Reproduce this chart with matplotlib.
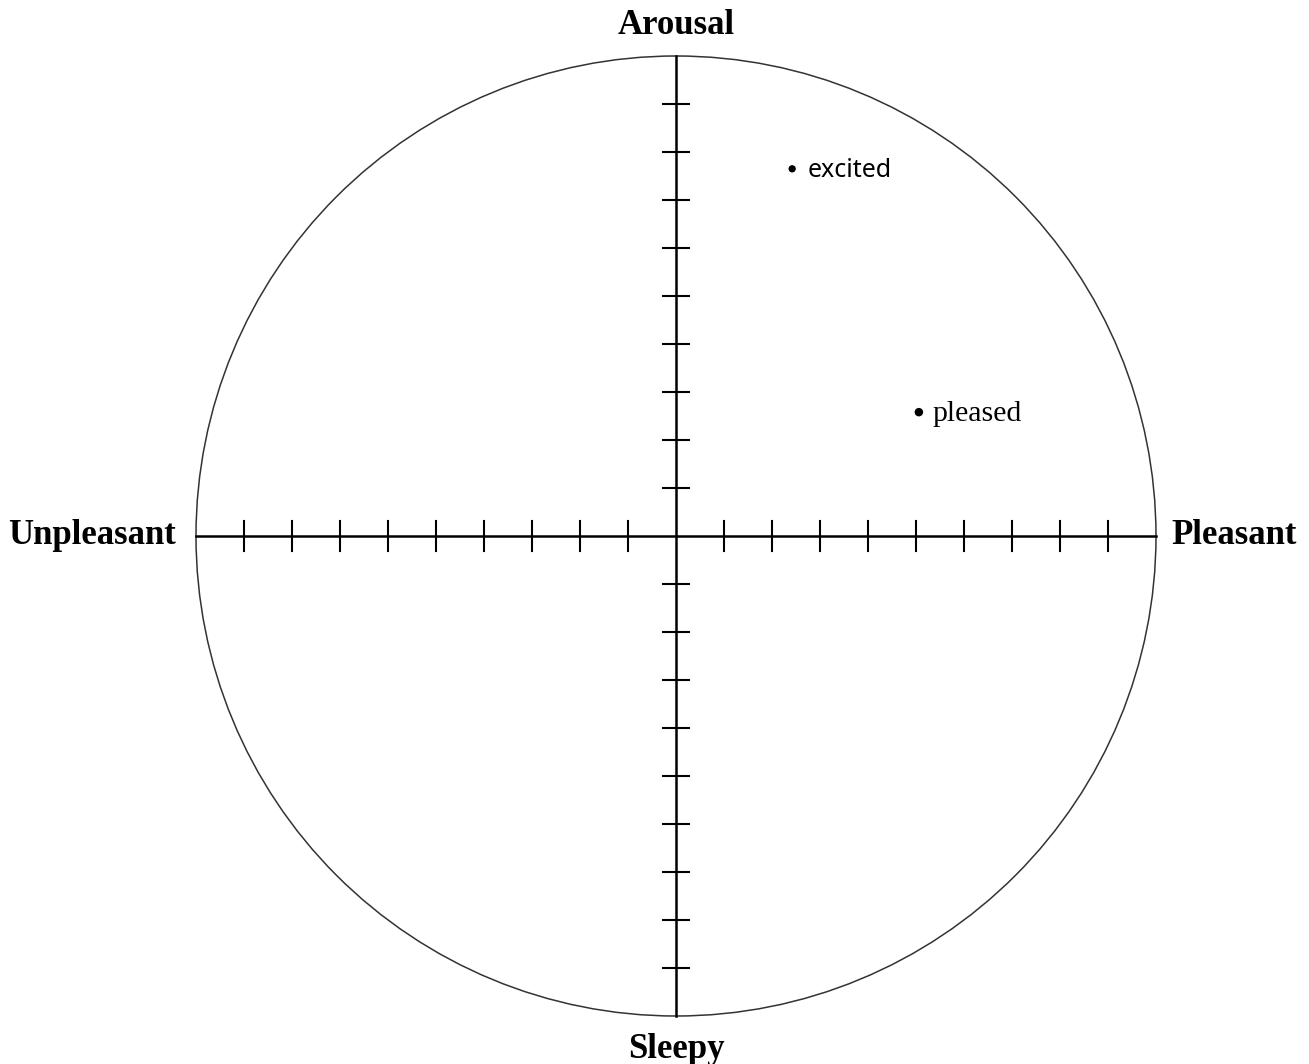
import matplotlib.pyplot as plt
import numpy as np
from matplotlib.patches import Circle

# affect words placed in the valence / arousal plane
words = ["excited", "pleased"]
valence = [0.242, 0.506]
arousal = [0.765, 0.258]
word_fonts = ["Noto Sans", "Liberation Serif"]

tick_values = [-0.9, -0.8, -0.7, -0.6, -0.5, -0.4, -0.3, -0.2, -0.1,
               0.1, 0.2, 0.3, 0.4, 0.5, 0.6, 0.7, 0.8, 0.9]
axis_labels = {"top": "Arousal", "bottom": "Sleepy",
               "left": "Unpleasant", "right": "Pleasant"}

fig = plt.figure(figsize=(13.09, 10.64), dpi=100)
ax = fig.add_axes([0, 0, 1, 1])
ax.set_xlim(-676 / 480, (1309 - 676) / 480)
ax.set_ylim(-(1064 - 536) / 480, 536 / 480)
ax.axis("off")

ax.add_patch(Circle((0, 0), 1.0, fill=False, edgecolor="#333333", linewidth=1.1))
ax.plot([-1, 1], [0, 0], color="black", linewidth=1.8)
ax.plot([0, 0], [-1, 1], color="black", linewidth=1.8)

tl = 0.031
for t in tick_values:
    ax.plot([t, t], [-tl, tl], color="black", linewidth=1.5)
    ax.plot([-0.027, 0.027], [t, t], color="black", linewidth=1.5)

lab = dict(family="Liberation Serif", fontweight="bold", fontsize=25)
ax.text(0, 1.064, axis_labels["top"], ha="center", va="center", **lab)
ax.text(0, -1.07, axis_labels["bottom"], ha="center", va="center", **lab)
ax.text(-1.042, 0.002, axis_labels["left"], ha="right", va="center", **lab)
ax.text(1.033, 0.002, axis_labels["right"], ha="left", va="center", **lab)

ax.scatter(valence, arousal, s=[18, 26], color="black", zorder=3)
for w, x, y, f in zip(words, valence, arousal, word_fonts):
    sans = f == "Noto Sans"
    ax.text(x + (0.033 if sans else 0.029), y - 0.004, w, family=f,
            fontsize=18 if sans else 21.5,
            fontweight="light" if sans else "normal",
            ha="left", va="center")

fig.savefig("out.png", dpi=100)
